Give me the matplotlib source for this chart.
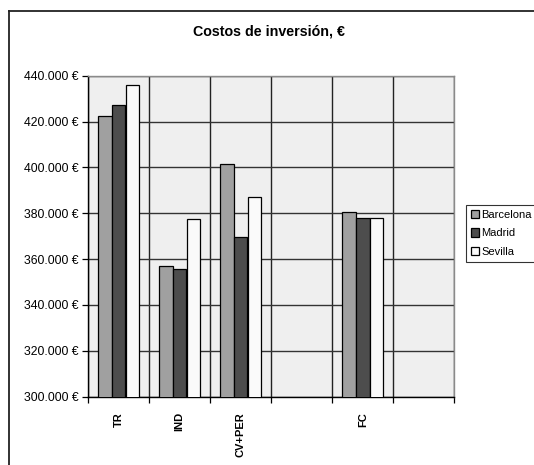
import numpy as np
import matplotlib.pyplot as plt
from matplotlib.lines import Line2D
from matplotlib.ticker import FuncFormatter

plt.rcParams['font.family'] = ['Liberation Sans', 'DejaVu Sans']

# cost per scenario and city (empty slots keep the spacing of the sheet)
categories = ['TR', 'IND', 'CV+PER', '', 'FC', '']
barcelona = [422500, 357100, 401600, np.nan, 380400, np.nan]
madrid = [427200, 355600, 369500, np.nan, 377900, np.nan]
sevilla = [436000, 377600, 387200, np.nan, 378000, np.nan]
series = [('Barcelona', barcelona, '#a0a0a0'),
          ('Madrid', madrid, '#4d4d4d'),
          ('Sevilla', sevilla, '#fafafa')]

fig = plt.figure(figsize=(5.34, 4.65), dpi=100)
ax = fig.add_axes([88 / 534, 1 - 396.7 / 465, (454.5 - 88) / 534, (396.7 - 75.7) / 465])
ax.set_facecolor('#efefef')

x = np.arange(len(categories)) + 0.5
width = 0.22
for i, (name, vals, col) in enumerate(series):
    ax.bar(x + (i - 1) * 0.225, vals, width, color=col, edgecolor='black',
           linewidth=0.9, label=name, zorder=3)

ax.set_xlim(0, len(categories))
ax.set_ylim(300000, 440000)
ax.set_yticks(np.arange(300000, 440001, 20000))
ax.yaxis.set_major_formatter(FuncFormatter(
    lambda v, p: f"{int(v):,}".replace(',', '.') + ' €'))
ax.tick_params(axis='y', direction='out', length=4, width=0.9, pad=3,
               labelsize=8.8, colors='black')

# category names in the middle, tick marks on the boundaries
ax.set_xticks(x)
ax.set_xticklabels(categories, rotation=90, fontweight='bold', fontsize=8)
ax.tick_params(axis='x', which='major', length=0, pad=11)
ax.set_xticks(np.arange(len(categories) + 1), minor=True)
ax.tick_params(axis='x', which='minor', direction='out', length=4, width=0.9)

ax.grid(axis='y', which='major', color='#333333', linewidth=1.0, zorder=1)
ax.grid(axis='x', which='minor', color='#222222', linewidth=1.0, zorder=1)
ax.set_axisbelow(True)

for s in ['left', 'bottom']:
    ax.spines[s].set_color('black')
    ax.spines[s].set_linewidth(1.0)
for s in ['top', 'right']:
    ax.spines[s].set_color('#8a8a8a')
    ax.spines[s].set_linewidth(1.0)

fig.text(269 / 534, 1 - 31 / 465, 'Costos de inversión, €', ha='center',
         va='center', fontsize=10.3, fontweight='bold')

leg = ax.legend(loc='upper left', bbox_to_anchor=(466 / 534, 1 - 205 / 465),
                bbox_transform=fig.transFigure, fontsize=8, frameon=True,
                fancybox=False, edgecolor='black', borderpad=0.45,
                handlelength=0.75, handleheight=0.75, handletextpad=0.2,
                labelspacing=0.75, borderaxespad=0)
leg.get_frame().set_linewidth(0.8)

# outer chart frame
fx = 9 / 534
fy = 1 - 11 / 465
fig.add_artist(Line2D([fx, fx], [0, fy], color='#222222', linewidth=1.3))
fig.add_artist(Line2D([fx, 1], [fy, fy], color='#222222', linewidth=1.3))

fig.savefig('out.png', dpi=100)
